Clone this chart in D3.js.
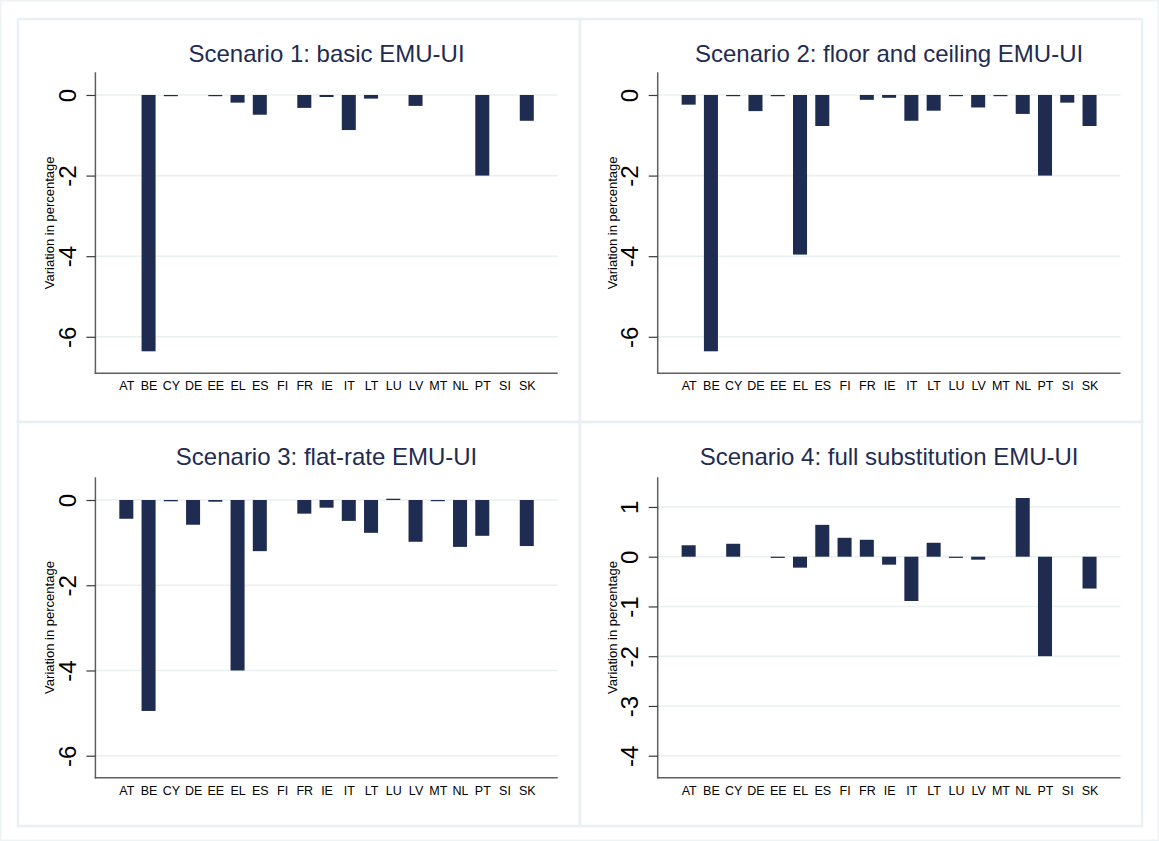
<!DOCTYPE html>
<html>
<head>
<meta charset="utf-8">
<script src="https://cdn.jsdelivr.net/npm/d3@7"></script>
<style>
  html, body { margin: 0; padding: 0; background: #ffffff; }
  svg { display: block; }
  text { font-family: "Liberation Sans", Arial, sans-serif; }
</style>
</head>
<body>
<svg id="chart" width="1159" height="841"></svg>
<script>
// ---- data ----
const countries = ["AT","BE","CY","DE","EE","EL","ES","FI","FR","IE","IT","LT","LU","LV","MT","NL","PT","SI","SK"];
const titles = [
  "Scenario 1: basic EMU-UI",
  "Scenario 2: floor and ceiling EMU-UI",
  "Scenario 3: flat-rate EMU-UI",
  "Scenario 4: full substitution EMU-UI"
];
const scenario1 = [0, -6.36, -0.03, 0, -0.03, -0.19, -0.49, 0, -0.32, -0.05, -0.87, -0.09, 0, -0.27, 0, 0, -2.00, 0, -0.64];
const scenario2 = [-0.24, -6.36, -0.03, -0.40, -0.03, -3.96, -0.77, 0, -0.12, -0.07, -0.64, -0.39, -0.02, -0.31, -0.03, -0.47, -2.00, -0.19, -0.77];
const scenario3 = [-0.44, -4.95, -0.03, -0.58, -0.04, -4.00, -1.20, 0, -0.32, -0.18, -0.49, -0.77, 0.03, -0.98, -0.02, -1.10, -0.84, 0, -1.08];
const scenario4 = [0.23, 0, 0.26, 0, -0.02, -0.22, 0.64, 0.38, 0.34, -0.16, -0.89, 0.28, -0.02, -0.06, 0, 1.18, -2.00, 0, -0.64];
const ticks12 = [0, -2, -4, -6];
const ticks3 = [0, -2, -4, -6];
const ticks4 = [1, 0, -1, -2, -3, -4];
const yLimits12 = [-6.906, 0.563];
const yLimits3 = [-6.516, 0.533];
const yLimits4 = [-4.442, 1.596];
const yTitle = "Variation in percentage";

const series = [scenario1, scenario2, scenario3, scenario4];
const tickSets = [ticks12, ticks12, ticks3, ticks4];
const limits = [yLimits12, yLimits12, yLimits3, yLimits4];

// ---- layout ----
const svg = d3.select("#chart");
const NAVY = "#1f2c52";
const GRID = "#e8f0f2";
const FRAME = "#e9f0f3";

// outer faint frame
svg.append("rect").attr("x", 0.75).attr("y", 0.75).attr("width", 1157.5).attr("height", 839.5)
  .attr("fill", "#ffffff").attr("stroke", "#eef3f5").attr("stroke-width", 1.5);

const panels = [
  {px: 18, py: 19, pw: 562, ph: 403, x0: 95.4, x1: 557.7, y0: 72.3, y1: 373.3},
  {px: 580, py: 19, pw: 562, ph: 403, x0: 657.7, x1: 1120.5, y0: 72.3, y1: 373.3},
  {px: 18, py: 422, pw: 562, ph: 404, x0: 95.4, x1: 557.7, y0: 477.3, y1: 777.7},
  {px: 580, py: 422, pw: 562, ph: 404, x0: 657.7, x1: 1120.5, y0: 477.3, y1: 777.7}
];

panels.forEach((p, i) => {
  const g = svg.append("g");
  g.append("rect").attr("x", p.px).attr("y", p.py).attr("width", p.pw).attr("height", p.ph)
    .attr("fill", "#ffffff").attr("stroke", FRAME).attr("stroke-width", 2.5);

  const x = d3.scalePoint().domain(countries).range([p.x0, p.x1]).padding(1.39);
  const y = d3.scaleLinear().domain(limits[i]).range([p.y1, p.y0]);
  const bw = x.step() * 0.63;

  // gridlines
  g.selectAll(".grid").data(tickSets[i]).join("line")
    .attr("x1", p.x0).attr("x2", p.x1)
    .attr("y1", d => y(d)).attr("y2", d => y(d))
    .attr("stroke", GRID).attr("stroke-width", 1.6);

  // bars
  const vals = series[i];
  g.selectAll(".bar").data(countries.map((c, k) => ({c, v: vals[k]})).filter(d => d.v !== 0))
    .join("rect")
    .attr("x", d => x(d.c) - bw / 2)
    .attr("width", bw)
    .attr("y", d => Math.min(y(d.v), y(0)))
    .attr("height", d => Math.max(1.2, Math.abs(y(d.v) - y(0))))
    .attr("fill", NAVY);

  // y axis
  const yAxis = d3.axisLeft(y).tickValues(tickSets[i]).tickSize(9).tickSizeOuter(0).tickFormat(d => String(d));
  const ya = g.append("g").attr("transform", `translate(${p.x0},0)`).call(yAxis);
  ya.select(".domain").attr("stroke", "#5f5f5f").attr("stroke-width", 1.5)
    .attr("d", `M0,${p.y0}V${p.y1 + 0.75}`);
  ya.selectAll(".tick line").attr("stroke", "#3a3a3a").attr("stroke-width", 1.2);
  ya.selectAll(".tick text")
    .attr("font-size", 24).attr("fill", "#000")
    .attr("x", 0).attr("dy", 0)
    .attr("text-anchor", "middle")
    .attr("transform", "translate(-19.5,0) rotate(-90)")
    .attr("y", 0);

  // x axis
  const xAxis = d3.axisBottom(x).tickSize(0).tickSizeOuter(0).tickPadding(8);
  const xa = g.append("g").attr("transform", `translate(0,${p.y1})`).call(xAxis);
  xa.select(".domain").attr("stroke", "#5f5f5f").attr("stroke-width", 1.5)
    .attr("d", `M${p.x0 - 0.75},0H${p.x1}`);
  xa.selectAll(".tick text").attr("font-size", 12.5).attr("fill", "#000").attr("dy", "0.71em");

  // y title
  g.append("text")
    .attr("transform", `translate(${p.x0 - 41},${(p.y0 + p.y1) / 2}) rotate(-90)`)
    .attr("text-anchor", "middle")
    .attr("font-size", 13).attr("fill", "#000")
    .text(yTitle);

  // title
  g.append("text")
    .attr("x", (p.x0 + p.x1) / 2).attr("y", p.py + 43.3)
    .attr("text-anchor", "middle")
    .attr("font-size", 24).attr("fill", NAVY)
    .text(titles[i]);
});
</script>
</body>
</html>
